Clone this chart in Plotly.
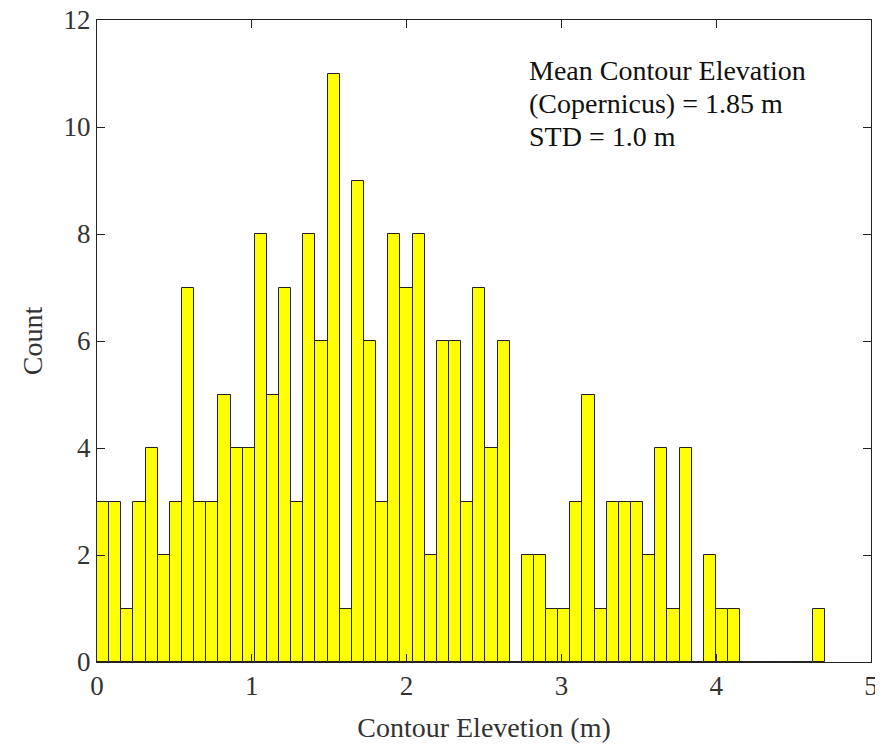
import plotly.graph_objects as go

# Histogram data
bin_start = 0.0
bin_width = 0.0784
counts = [3, 3, 1, 3, 4, 2, 3, 7, 3, 3,
          5, 4, 4, 8, 5, 7, 3, 8, 6, 11,
          1, 9, 6, 3, 8, 7, 8, 2, 6, 6,
          3, 7, 4, 6, 0, 2, 2, 1, 1, 3,
          5, 1, 3, 3, 3, 2, 4, 1, 4, 0,
          2, 1, 1, 0, 0, 0, 0, 0, 0, 1]
x_ticks = [0, 1, 2, 3, 4, 5]
y_ticks = [0, 2, 4, 6, 8, 10, 12]
annotation_lines = ["Mean Contour Elevation", "(Copernicus) = 1.85 m", "STD = 1.0 m"]

centers = [bin_start + (i + 0.5) * bin_width for i in range(len(counts))]

FONT = "Liberation Serif, Times New Roman, serif"
TXT = "#333333"

fig = go.Figure()
fig.add_trace(go.Bar(
    x=centers, y=counts, width=bin_width,
    marker=dict(color="#FFFF00", line=dict(color="#222222", width=1)),
    showlegend=False,
))

for i, line in enumerate(annotation_lines):
    fig.add_annotation(
        x=0.5555, xref="paper", y=0.922 - i * 0.052, yref="paper",
        text=line, showarrow=False, xanchor="left", yanchor="middle",
        font=dict(family=FONT, size=28, color="#111111"),
    )

axis_common = dict(
    showline=True, linecolor="#222222", linewidth=1, mirror="ticks",
    ticks="inside", ticklen=8, tickcolor="#222222", tickwidth=1,
    showgrid=False, zeroline=False, automargin=False,
    ticklabeloverflow="allow",
    tickfont=dict(family=FONT, size=27, color=TXT),
)

# the page body adds an 8px offset, so the figure is sized to fit the window
fig.update_layout(
    width=875, height=738,
    margin=dict(l=89, r=12, t=12, b=84),
    paper_bgcolor="white", plot_bgcolor="white",
    bargap=0,
    xaxis=dict(range=[0, 5], tickvals=x_ticks,
               title=dict(text="Contour Elevetion (m)", standoff=16,
                          font=dict(family=FONT, size=28, color=TXT)),
               **axis_common),
    yaxis=dict(range=[0, 12], tickvals=y_ticks,
               title=dict(text="Count", standoff=12,
                          font=dict(family=FONT, size=28, color=TXT)),
               **axis_common),
)

fig.write_html("out.html")
